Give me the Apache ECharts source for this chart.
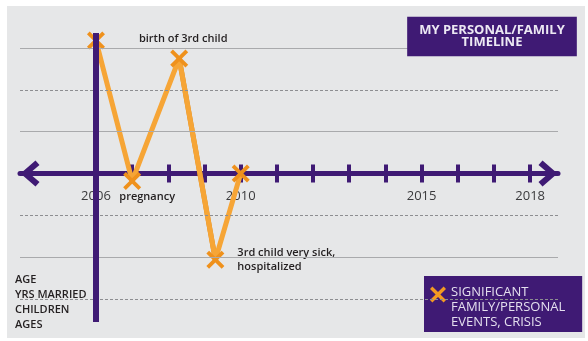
<!DOCTYPE html>
<html lang="en">
<head>
<meta charset="utf-8">
<title>My personal/family timeline</title>
<script src="https://cdn.jsdelivr.net/npm/echarts@6.0.0/dist/echarts.min.js"></script>
<style>
    html, body { margin: 0; padding: 0; background: #fff; }
    #container { width: 588px; height: 341px; }
</style>
</head>
<body>
<div id="container"></div>
<script type="text/javascript">
    // event points (x = year, y = how good/bad)
    var eventYears = [2006, 2007, 2008.3, 2009.3, 2010];
    var eventLevels = [3.18, -0.18, 2.75, -2.06, 0];
    var eventNames = ['', 'pregnancy', 'birth of 3rd child', '3rd child very sick,\nhospitalized', ''];

    var tickYears = [2007, 2008, 2009, 2010, 2011, 2012, 2013, 2014, 2015, 2016, 2017, 2018];
    var labelYears = [2006, 2010, 2015, 2018];
    var guideLevels = [3, 2, 1, -1, -2, -3];
    var startYear = 2006;

    var seriesName = 'SIGNIFICANT\nFAMILY/PERSONAL\nEVENTS, CRISIS';
    var rowLabels = 'AGE\nYRS MARRIED\nCHILDREN\nAGES';

    var purple = '#3f1a74';
    var orange = '#f6a536';
    var orangeDark = '#d8861d';
    var crossPath = 'path://M3,0 L10,7 L17,0 L20,3 L13,10 L20,17 L17,20 L10,13 L3,20 L0,17 L7,10 L0,3 Z';
    var chevron = 'path://M13,0 L26,15 L21.5,19 L13,9 L4.5,19 L0,15 Z';
    var legendCross = 'path://M3,0 L10,7 L17,0 L20,3 L13,10 L20,17 L17,20 L10,13 L3,20 L0,17 L7,10 L0,3 Z M10,52.5 L10.01,52.5 Z';

    var labelStyle = {
        fontFamily: 'Open Sans',
        fontSize: 11,
        fontWeight: 600,
        color: '#231f20',
        lineHeight: 14
    };
    // where each event's caption sits
    var labelPlace = {
        1: { position: 'bottom', distance: 0, offset: [15, 0] },
        2: { position: 'top', distance: 4, offset: [4, 0] },
        3: { position: 'right', distance: 13, align: 'left' }
    };

    var points = eventYears.map(function (yr, i) {
        var item = { value: [yr, eventLevels[i]] };
        if (eventNames[i]) {
            item.label = Object.assign({ show: true, formatter: eventNames[i] }, labelStyle, labelPlace[i]);
        }
        return item;
    });

    var guideLines = guideLevels.map(function (lv, i) {
        return {
            yAxis: lv,
            lineStyle: i % 2 === 0
                ? { color: '#a9aaac', width: 1, type: 'solid' }
                : { color: '#8d8e91', width: 1, type: [3, 2] }
        };
    });

    var dom = document.getElementById('container');
    var myChart = echarts.init(dom, null, { renderer: 'canvas' });

    // grid is 33..322 px tall, the zero line sits at 173.5 px
    var option = {
        backgroundColor: '#fff',
        animation: false,
        title: {
            text: 'MY PERSONAL/FAMILY\nTIMELINE',
            left: 480,
            top: 17,
            textAlign: 'center',
            padding: [7, 12],
            backgroundColor: purple,
            textStyle: {
                fontFamily: 'Open Sans',
                fontSize: 13,
                fontWeight: 'bold',
                color: '#ece8f3',
                lineHeight: 12.5
            }
        },
        legend: {
            data: [{ name: seriesName, icon: legendCross }],
            left: 424,
            top: 276,
            orient: 'vertical',
            padding: [9, 17, 2, 6],
            backgroundColor: purple,
            itemWidth: 16,
            itemHeight: 42,
            selectedMode: false,
            itemStyle: { color: '#f39a22', borderWidth: 0 },
            textStyle: {
                fontFamily: 'Open Sans',
                fontSize: 13,
                color: '#e4dfee',
                lineHeight: 15
            }
        },
        grid: { left: 20, right: 30, top: 33, bottom: 19 },
        xAxis: [
            {
                type: 'value',
                position: 'bottom',
                offset: -148.5,
                min: 2003.9,
                max: 2018.77,
                splitLine: { show: false },
                axisLine: {
                    onZero: false,
                    symbol: [chevron, chevron],
                    symbolSize: [26, 20],
                    symbolOffset: [10, -10],
                    lineStyle: { color: purple, width: 5 }
                },
                axisTick: {
                    customValues: tickYears,
                    length: 9,
                    lineStyle: { color: purple, width: 4 }
                },
                axisLabel: {
                    customValues: labelYears,
                    margin: 16,
                    fontFamily: 'Open Sans',
                    fontSize: 13,
                    color: '#3a3a3c',
                    formatter: function (v) { return String(v); }
                }
            },
            {
                type: 'value',
                position: 'top',
                offset: -140.5,
                min: 2003.9,
                max: 2018.77,
                splitLine: { show: false },
                axisLine: { onZero: false, show: false },
                axisTick: {
                    customValues: tickYears,
                    length: 9,
                    lineStyle: { color: purple, width: 4 }
                },
                axisLabel: { show: false }
            }
        ],
        yAxis: {
            type: 'value',
            min: -3.55,
            max: 3.36,
            show: false
        },
        graphic: [
            {
                type: 'rect',
                z: -10,
                shape: { x: 7, y: 6, width: 578, height: 332 },
                style: { fill: '#e6e7e8' }
            },
            {
                type: 'text',
                left: 15,
                top: 273,
                style: {
                    text: rowLabels,
                    fontFamily: 'Open Sans',
                    fontSize: 11,
                    fontWeight: 600,
                    lineHeight: 14.7,
                    fill: '#231f20'
                }
            }
        ],
        series: [
            {
                // guide lines and the vertical start line
                type: 'line',
                data: [],
                z: 1,
                silent: true,
                markLine: {
                    symbol: 'none',
                    silent: true,
                    label: { show: false },
                    data: guideLines.concat([
                        { xAxis: startYear, lineStyle: { color: purple, width: 6, type: 'solid' } }
                    ])
                }
            },
            {
                name: seriesName,
                type: 'line',
                z: 4,
                clip: false,
                data: points,
                symbol: crossPath,
                symbolSize: 18,
                itemStyle: { color: '#ef911c', borderWidth: 0 },
                lineStyle: { color: orange, width: 5 }
            },
            {
                // the darker falling segment
                type: 'line',
                z: 3,
                clip: false,
                silent: true,
                data: eventYears.slice(2, 4).map(function (yr, i) { return [yr, eventLevels[i + 2]]; }),
                symbol: 'none',
                lineStyle: { color: orangeDark, width: 5 }
            }
        ]
    };

    myChart.setOption(option);
    window.addEventListener('resize', myChart.resize);
</script>
</body>
</html>
